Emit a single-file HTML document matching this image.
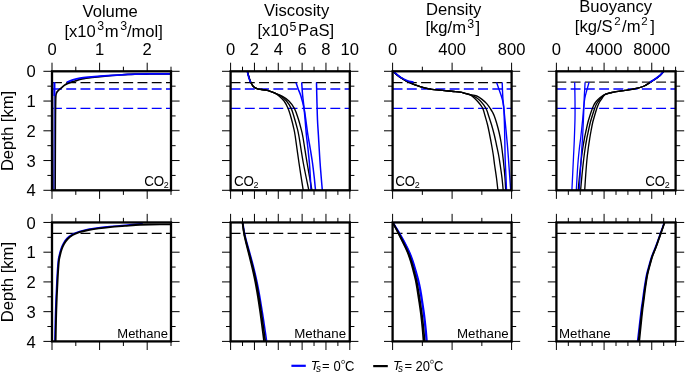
<!DOCTYPE html>
<html><head><meta charset="utf-8"><title>Figure</title>
<style>
html,body{margin:0;padding:0;background:#fff;}
body{width:685px;height:374px;overflow:hidden;font-family:"Liberation Sans",sans-serif;}
svg{display:block;will-change:transform;}
</style></head>
<body>
<svg width="685" height="374" viewBox="0 0 685 374">
<rect width="685" height="374" fill="#fff"/>
<line x1="52" y1="82.5" x2="171" y2="82.5" stroke="#000" stroke-width="1.25" stroke-dasharray="9.9 4.35"/>
<line x1="52" y1="88.95" x2="171" y2="88.95" stroke="#0000ff" stroke-width="1.4" stroke-dasharray="9.9 4.35"/>
<line x1="52" y1="108.4" x2="171" y2="108.4" stroke="#0000ff" stroke-width="1.4" stroke-dasharray="9.9 4.35"/>
<line x1="52" y1="233.4" x2="171" y2="233.4" stroke="#000" stroke-width="1.3" stroke-dasharray="9.9 4.35"/>
<line x1="230.6" y1="82.5" x2="349.8" y2="82.5" stroke="#000" stroke-width="1.25" stroke-dasharray="9.9 4.35"/>
<line x1="230.6" y1="88.95" x2="349.8" y2="88.95" stroke="#0000ff" stroke-width="1.4" stroke-dasharray="9.9 4.35"/>
<line x1="230.6" y1="108.4" x2="349.8" y2="108.4" stroke="#0000ff" stroke-width="1.4" stroke-dasharray="9.9 4.35"/>
<line x1="230.6" y1="233.4" x2="349.8" y2="233.4" stroke="#000" stroke-width="1.3" stroke-dasharray="9.9 4.35"/>
<line x1="392.6" y1="82.5" x2="511.6" y2="82.5" stroke="#000" stroke-width="1.25" stroke-dasharray="9.9 4.35"/>
<line x1="392.6" y1="88.95" x2="511.6" y2="88.95" stroke="#0000ff" stroke-width="1.4" stroke-dasharray="9.9 4.35"/>
<line x1="392.6" y1="108.4" x2="511.6" y2="108.4" stroke="#0000ff" stroke-width="1.4" stroke-dasharray="9.9 4.35"/>
<line x1="392.6" y1="233.4" x2="511.6" y2="233.4" stroke="#000" stroke-width="1.3" stroke-dasharray="9.9 4.35"/>
<line x1="556.4" y1="82.05" x2="675.6" y2="82.05" stroke="#1a1a1a" stroke-width="1.3" stroke-dasharray="9.9 4.35"/>
<line x1="556.4" y1="88.95" x2="675.6" y2="88.95" stroke="#0000ff" stroke-width="1.4" stroke-dasharray="9.9 4.35"/>
<line x1="556.4" y1="108.4" x2="675.6" y2="108.4" stroke="#0000ff" stroke-width="1.4" stroke-dasharray="9.9 4.35"/>
<line x1="556.4" y1="233.4" x2="675.6" y2="233.4" stroke="#000" stroke-width="1.3" stroke-dasharray="9.9 4.35"/>
<path d="M171 73.9 C167.5 73.92 156 73.95 150 74 C144 74.05 140 74.03 135 74.2 C130 74.37 125 74.68 120 75 C115 75.32 109.67 75.7 105 76.1 C100.33 76.5 95.83 76.93 92 77.4 C88.17 77.87 84.83 78.3 82 78.9 C79.17 79.5 77.05 80.38 75 81 C72.95 81.62 71.33 81.97 69.7 82.6 C68.07 83.23 66.58 83.93 65.2 84.8 C63.82 85.67 62.55 86.85 61.4 87.8 C60.25 88.75 59.13 89.6 58.3 90.5 C57.47 91.4 56.83 91.95 56.4 93.2 C55.97 94.45 55.87 93.53 55.7 98 C55.53 102.47 55.5 104.65 55.4 120 C55.3 135.35 55.15 178.42 55.1 190.1" fill="none" stroke="#000" stroke-width="1.7" stroke-linejoin="round"/>
<path d="M171 73.8 C167.5 73.82 156 73.85 150 73.9 C144 73.95 139.17 73.98 135 74.1 C130.83 74.22 128.83 74.38 125 74.6 C121.17 74.82 116.17 75.13 112 75.4 C107.83 75.67 104 75.92 100 76.2 C96 76.48 91.33 76.78 88 77.1 C84.67 77.42 82.53 77.63 80 78.1 C77.47 78.57 75.02 79.22 72.8 79.9 C70.58 80.58 67.72 81.82 66.7 82.2" fill="none" stroke="#0000ff" stroke-width="1.7" stroke-linejoin="round"/>
<path d="M54.4 82.3 L54.25 120 L53.8 190.3" fill="none" stroke="#3535b5" stroke-width="1.6" stroke-linejoin="round"/>
<path d="M54.45 82.3 L54.4 96" fill="none" stroke="#0000ff" stroke-width="1.9" stroke-linejoin="round"/>
<path d="M247.3 71.1 C247.52 71.92 248.1 74.3 248.6 76 C249.1 77.7 249.78 79.97 250.3 81.3 C250.82 82.63 251.08 83.03 251.7 84 C252.32 84.97 253.03 86.3 254 87.1 C254.97 87.9 256.25 88.4 257.5 88.8 C258.75 89.2 260.05 89.27 261.5 89.5 C262.95 89.73 264.62 89.85 266.2 90.2 C267.78 90.55 269.63 91.15 271 91.6 C272.37 92.05 273.02 92.13 274.4 92.9 C275.78 93.67 277.68 94.85 279.3 96.2 C280.92 97.55 282.63 98.93 284.1 101 C285.57 103.07 286.9 105.68 288.1 108.6 C289.3 111.52 290.37 115.23 291.3 118.5 C292.23 121.77 293.05 125.28 293.7 128.2 C294.35 131.12 294.32 130.2 295.2 136 C296.08 141.8 297.67 153.98 299 163 C300.33 172.02 302.5 185.58 303.2 190.1" fill="none" stroke="#000" stroke-width="1.35" stroke-linejoin="round"/>
<path d="M247.3 71.1 C247.52 71.92 248.1 74.3 248.6 76 C249.1 77.7 249.78 79.97 250.3 81.3 C250.82 82.63 251.08 83.03 251.7 84 C252.32 84.97 253.03 86.3 254 87.1 C254.97 87.9 256.25 88.4 257.5 88.8 C258.75 89.2 260.05 89.27 261.5 89.5 C262.95 89.73 264.62 89.85 266.2 90.2 C267.78 90.55 269.63 91.15 271 91.6 C272.37 92.05 272.75 92.12 274.4 92.9 C276.05 93.68 278.88 94.95 280.9 96.3 C282.92 97.65 284.77 98.95 286.5 101 C288.23 103.05 289.97 105.68 291.3 108.6 C292.63 111.52 293.52 115.23 294.5 118.5 C295.48 121.77 296.47 125.28 297.2 128.2 C297.93 131.12 297.88 130.2 298.9 136 C299.92 141.8 301.65 153.98 303.3 163 C304.95 172.02 307.88 185.58 308.8 190.1" fill="none" stroke="#000" stroke-width="1.35" stroke-linejoin="round"/>
<path d="M247.3 71.1 C247.52 71.92 248.1 74.3 248.6 76 C249.1 77.7 249.78 79.97 250.3 81.3 C250.82 82.63 251.08 83.03 251.7 84 C252.32 84.97 253.03 86.3 254 87.1 C254.97 87.9 256.25 88.4 257.5 88.8 C258.75 89.2 260.05 89.27 261.5 89.5 C262.95 89.73 264.62 89.85 266.2 90.2 C267.78 90.55 269.63 91.15 271 91.6 C272.37 92.05 272.48 92.1 274.4 92.9 C276.32 93.7 280.08 95.05 282.5 96.4 C284.92 97.75 286.9 98.97 288.9 101 C290.9 103.03 292.95 105.68 294.5 108.6 C296.05 111.52 297.13 115.23 298.2 118.5 C299.27 121.77 300.12 125.12 300.9 128.2 C301.68 131.28 301.87 131.2 302.9 137 C303.93 142.8 305.6 154.15 307.1 163 C308.6 171.85 311.1 185.58 311.9 190.1" fill="none" stroke="#000" stroke-width="1.35" stroke-linejoin="round"/>
<path d="M247.3 71.1 C247.43 71.75 247.8 73.77 248.1 75 C248.4 76.23 248.68 77.27 249.1 78.5 C249.52 79.73 250.35 81.75 250.6 82.4" fill="none" stroke="#0000ff" stroke-width="1.6" stroke-linejoin="round"/>
<path d="M295.9 82.4 C296.28 83.5 297.37 86.73 298.2 89 C299.03 91.27 299.92 92.73 300.9 96 C301.88 99.27 303.23 104.27 304.1 108.6 C304.97 112.93 305.47 117.6 306.1 122 C306.73 126.4 307.2 130.5 307.9 135 C308.6 139.5 309.53 144.33 310.3 149 C311.07 153.67 311.85 158.33 312.5 163 C313.15 167.67 313.7 172.48 314.2 177 C314.7 181.52 315.28 187.92 315.5 190.1" fill="none" stroke="#0000ff" stroke-width="1.5" stroke-linejoin="round"/>
<path d="M301.7 82.4 C301.78 83.67 302.03 87.73 302.2 90 C302.37 92.27 302.38 92.9 302.7 96 C303.02 99.1 303.67 104.27 304.1 108.6 C304.53 112.93 304.92 117.6 305.3 122 C305.68 126.4 305.95 130.5 306.4 135 C306.85 139.5 307.5 144.33 308 149 C308.5 153.67 309.02 158.33 309.4 163 C309.78 167.67 310.03 172.48 310.3 177 C310.57 181.52 310.88 187.92 311 190.1" fill="none" stroke="#0000ff" stroke-width="1.5" stroke-linejoin="round"/>
<path d="M316.5 82.4 C316.57 85.33 316.73 93.73 316.9 100 C317.07 106.27 317.25 114.17 317.5 120 C317.75 125.83 317.97 127.83 318.4 135 C318.83 142.17 319.45 153.82 320.1 163 C320.75 172.18 321.93 185.58 322.3 190.1" fill="none" stroke="#0000ff" stroke-width="1.5" stroke-linejoin="round"/>
<path d="M392.7 71.3 C393.37 71.85 395.28 73.5 396.7 74.6 C398.12 75.7 399.65 76.87 401.2 77.9 C402.75 78.93 404.53 80 406 80.8 C407.47 81.6 408.12 81.88 410 82.7 C411.88 83.52 414.87 84.83 417.3 85.7 C419.73 86.57 422.17 87.3 424.6 87.9 C427.03 88.5 429.47 88.93 431.9 89.3 C434.33 89.67 436.77 89.85 439.2 90.1 C441.63 90.35 444.07 90.57 446.5 90.8 C448.93 91.03 451.55 91.27 453.8 91.5 C456.05 91.73 458.13 91.9 460 92.2 C461.87 92.5 463.43 92.92 465 93.3 C466.57 93.68 468 93.85 469.4 94.5 C470.8 95.15 472.05 96.08 473.4 97.2 C474.75 98.32 476.28 99.87 477.5 101.2 C478.72 102.53 479.77 103.85 480.7 105.2 C481.63 106.55 482.37 107.5 483.1 109.3 C483.83 111.1 484.35 113.38 485.1 116 C485.85 118.62 486.83 121.83 487.6 125 C488.37 128.17 489.03 131.67 489.7 135 C490.37 138.33 491 141.67 491.6 145 C492.2 148.33 492.8 151.67 493.3 155 C493.8 158.33 494.07 161.17 494.6 165 C495.13 168.83 495.95 173.78 496.5 178 C497.05 182.22 497.67 188.25 497.9 190.3" fill="none" stroke="#000" stroke-width="1.35" stroke-linejoin="round"/>
<path d="M392.7 71.3 C393.37 71.85 395.28 73.5 396.7 74.6 C398.12 75.7 399.65 76.87 401.2 77.9 C402.75 78.93 404.53 80 406 80.8 C407.47 81.6 408.12 81.88 410 82.7 C411.88 83.52 414.87 84.83 417.3 85.7 C419.73 86.57 422.17 87.3 424.6 87.9 C427.03 88.5 429.47 88.93 431.9 89.3 C434.33 89.67 436.77 89.85 439.2 90.1 C441.63 90.35 444.07 90.57 446.5 90.8 C448.93 91.03 451.55 91.27 453.8 91.5 C456.05 91.73 458.13 91.9 460 92.2 C461.87 92.5 463.43 92.92 465 93.3 C466.57 93.68 467.73 93.92 469.4 94.5 C471.07 95.08 473.25 95.82 475 96.8 C476.75 97.78 478.42 99 479.9 100.4 C481.38 101.8 482.77 103.6 483.9 105.2 C485.03 106.8 485.9 108.2 486.7 110 C487.5 111.8 487.88 113.5 488.7 116 C489.52 118.5 490.67 121.83 491.6 125 C492.53 128.17 493.48 131.67 494.3 135 C495.12 138.33 495.78 141.67 496.5 145 C497.22 148.33 497.98 151.67 498.6 155 C499.22 158.33 499.63 161.17 500.2 165 C500.77 168.83 501.5 173.78 502 178 C502.5 182.22 503 188.25 503.2 190.3" fill="none" stroke="#000" stroke-width="1.35" stroke-linejoin="round"/>
<path d="M392.7 71.3 C393.37 71.85 395.28 73.5 396.7 74.6 C398.12 75.7 399.65 76.87 401.2 77.9 C402.75 78.93 404.53 80 406 80.8 C407.47 81.6 408.12 81.88 410 82.7 C411.88 83.52 414.87 84.83 417.3 85.7 C419.73 86.57 422.17 87.3 424.6 87.9 C427.03 88.5 429.47 88.93 431.9 89.3 C434.33 89.67 436.77 89.85 439.2 90.1 C441.63 90.35 444.07 90.57 446.5 90.8 C448.93 91.03 451.55 91.27 453.8 91.5 C456.05 91.73 458.13 91.9 460 92.2 C461.87 92.5 463.43 92.92 465 93.3 C466.57 93.68 467.45 94.05 469.4 94.5 C471.35 94.95 474.55 95.15 476.7 96 C478.85 96.85 480.63 98.33 482.3 99.6 C483.97 100.87 485.37 102.12 486.7 103.6 C488.03 105.08 489.3 107.02 490.3 108.5 C491.3 109.98 492.03 111.25 492.7 112.5 C493.37 113.75 493.65 114.25 494.3 116 C494.95 117.75 495.82 120.33 496.6 123 C497.38 125.67 498.27 128.83 499 132 C499.73 135.17 500.38 138.17 501 142 C501.62 145.83 502.2 150.83 502.7 155 C503.2 159.17 503.62 163.17 504 167 C504.38 170.83 504.72 174.12 505 178 C505.28 181.88 505.58 188.25 505.7 190.3" fill="none" stroke="#000" stroke-width="1.35" stroke-linejoin="round"/>
<path d="M392.7 71.1 C393.37 71.62 395.28 73.12 396.7 74.2 C398.12 75.28 399.5 76.57 401.2 77.6 C402.9 78.63 404.83 79.63 406.9 80.4 C408.97 81.17 412.48 81.9 413.6 82.2" fill="none" stroke="#0000ff" stroke-width="1.6" stroke-linejoin="round"/>
<path d="M496.6 82.4 C497.1 83.83 498.62 88.07 499.6 91 C500.58 93.93 501.8 97.17 502.5 100 C503.2 102.83 503.38 104.67 503.8 108 C504.22 111.33 504.63 116.33 505 120 C505.37 123.67 505.6 125.83 506 130 C506.4 134.17 507 140.33 507.4 145 C507.8 149.67 508.03 153 508.4 158 C508.77 163 509.22 169.62 509.6 175 C509.98 180.38 510.52 187.75 510.7 190.3" fill="none" stroke="#0000ff" stroke-width="1.4" stroke-linejoin="round"/>
<path d="M502.2 82.4 C502.25 83.83 502.37 88.07 502.5 91 C502.63 93.93 502.78 97.17 503 100 C503.22 102.83 503.58 104.67 503.8 108 C504.02 111.33 504.17 116.33 504.3 120 C504.43 123.67 504.5 125.83 504.6 130 C504.7 134.17 504.8 140 504.9 145 C505 150 505.03 155 505.2 160 C505.37 165 505.68 169.95 505.9 175 C506.12 180.05 506.4 187.75 506.5 190.3" fill="none" stroke="#0000ff" stroke-width="1.4" stroke-linejoin="round"/>
<path d="M663.9 71.3 C663.25 72 661.48 74.17 660 75.5 C658.52 76.83 656.7 78.12 655 79.3 C653.3 80.48 651.6 81.48 649.8 82.6 C648 83.72 646.25 85.07 644.2 86 C642.15 86.93 639.55 87.63 637.5 88.2 C635.45 88.77 633.98 89.03 631.9 89.4 C629.82 89.77 627.63 90.03 625 90.4 C622.37 90.77 618.52 91.2 616.1 91.6 C613.68 92 612.23 92.37 610.5 92.8 C608.77 93.23 607.2 93.58 605.7 94.2 C604.2 94.82 602.78 95.62 601.5 96.5 C600.22 97.38 599.02 98.5 598 99.5 C596.98 100.5 596.17 101.42 595.4 102.5 C594.63 103.58 594 104.75 593.4 106 C592.8 107.25 592.4 108.33 591.8 110 C591.2 111.67 590.43 114 589.8 116 C589.17 118 588.6 119.67 588 122 C587.4 124.33 586.78 127.33 586.2 130 C585.62 132.67 585.07 135 584.5 138 C583.93 141 583.35 144.33 582.8 148 C582.25 151.67 581.73 155.5 581.2 160 C580.67 164.5 580.1 169.95 579.6 175 C579.1 180.05 578.43 187.75 578.2 190.3" fill="none" stroke="#000" stroke-width="1.35" stroke-linejoin="round"/>
<path d="M663.9 71.3 C663.25 72 661.48 74.17 660 75.5 C658.52 76.83 656.7 78.12 655 79.3 C653.3 80.48 651.6 81.48 649.8 82.6 C648 83.72 646.25 85.07 644.2 86 C642.15 86.93 639.55 87.63 637.5 88.2 C635.45 88.77 633.98 89.03 631.9 89.4 C629.82 89.77 627.63 90.03 625 90.4 C622.37 90.77 618.52 91.2 616.1 91.6 C613.68 92 612.23 92.37 610.5 92.8 C608.77 93.23 607.02 93.62 605.7 94.2 C604.38 94.78 603.58 95.43 602.6 96.3 C601.62 97.17 600.67 98.37 599.8 99.4 C598.93 100.43 598.1 101.4 597.4 102.5 C596.7 103.6 596.15 104.75 595.6 106 C595.05 107.25 594.67 108.33 594.1 110 C593.53 111.67 592.82 114 592.2 116 C591.58 118 591 119.67 590.4 122 C589.8 124.33 589.18 127.33 588.6 130 C588.02 132.67 587.47 135 586.9 138 C586.33 141 585.75 144.33 585.2 148 C584.65 151.67 584.13 155.5 583.6 160 C583.07 164.5 582.5 169.95 582 175 C581.5 180.05 580.83 187.75 580.6 190.3" fill="none" stroke="#000" stroke-width="1.35" stroke-linejoin="round"/>
<path d="M663.9 71.3 C663.25 72 661.48 74.17 660 75.5 C658.52 76.83 656.7 78.12 655 79.3 C653.3 80.48 651.6 81.48 649.8 82.6 C648 83.72 646.25 85.07 644.2 86 C642.15 86.93 639.55 87.63 637.5 88.2 C635.45 88.77 633.98 89.03 631.9 89.4 C629.82 89.77 627.63 90.03 625 90.4 C622.37 90.77 618.52 91.2 616.1 91.6 C613.68 92 612.23 92.37 610.5 92.8 C608.77 93.23 606.85 93.65 605.7 94.2 C604.55 94.75 604.32 95.25 603.6 96.1 C602.88 96.95 602.12 98.23 601.4 99.3 C600.68 100.37 599.92 101.38 599.3 102.5 C598.68 103.62 598.2 104.75 597.7 106 C597.2 107.25 596.83 108.33 596.3 110 C595.77 111.67 595.08 114 594.5 116 C593.92 118 593.35 119.67 592.8 122 C592.25 124.33 591.7 127.33 591.2 130 C590.7 132.67 590.28 135 589.8 138 C589.32 141 588.78 144.33 588.3 148 C587.82 151.67 587.33 155.5 586.9 160 C586.47 164.5 586.07 169.95 585.7 175 C585.33 180.05 584.87 187.75 584.7 190.3" fill="none" stroke="#000" stroke-width="1.35" stroke-linejoin="round"/>
<path d="M663.9 71.1 C663.25 71.8 661.42 74.03 660 75.3 C658.58 76.57 657.1 77.55 655.4 78.7 C653.7 79.85 650.73 81.62 649.8 82.2" fill="none" stroke="#0000ff" stroke-width="1.7" stroke-linejoin="round"/>
<path d="M574.7 82.2 C574.75 85.17 574.95 94.03 575 100 C575.05 105.97 575.12 111.33 575 118 C574.88 124.67 574.55 133.5 574.3 140 C574.05 146.5 573.9 148.62 573.5 157 C573.1 165.38 572.17 184.75 571.9 190.3" fill="none" stroke="#0000ff" stroke-width="1.3" stroke-linejoin="round"/>
<path d="M589.1 82.2 C588.68 83.67 587.32 88.28 586.6 91 C585.88 93.72 585.3 95.67 584.8 98.5 C584.3 101.33 583.97 104.42 583.6 108 C583.23 111.58 583.07 115.17 582.6 120 C582.13 124.83 581.37 132 580.8 137 C580.23 142 579.7 145.33 579.2 150 C578.7 154.67 578.28 158.28 577.8 165 C577.32 171.72 576.55 186.08 576.3 190.3" fill="none" stroke="#0000ff" stroke-width="1.3" stroke-linejoin="round"/>
<path d="M585.1 82.2 C585.02 83.67 584.75 88.28 584.6 91 C584.45 93.72 584.32 95.67 584.2 98.5 C584.08 101.33 584.03 104.42 583.9 108 C583.77 111.58 583.62 115.17 583.4 120 C583.18 124.83 582.88 132 582.6 137 C582.32 142 582 145.33 581.7 150 C581.4 154.67 581.22 158.28 580.8 165 C580.38 171.72 579.47 186.08 579.2 190.3" fill="none" stroke="#0000ff" stroke-width="1.3" stroke-linejoin="round"/>
<path d="M142.8 223.6 C139.83 223.88 130.47 224.82 125 225.3 C119.53 225.78 114.4 226.08 110 226.5 C105.6 226.92 102.38 227.3 98.6 227.8 C94.82 228.3 90.48 228.88 87.3 229.5 C84.12 230.12 81.93 230.72 79.5 231.5 C77.07 232.28 74.78 233.05 72.7 234.2 C70.62 235.35 68.57 236.83 67 238.4 C65.43 239.97 64.32 241.8 63.3 243.6 C62.28 245.4 61.6 247.13 60.9 249.2 C60.2 251.27 59.57 253.87 59.1 256 C58.63 258.13 58.47 258 58.1 262 C57.73 266 57.32 272 56.9 280 C56.48 288 55.95 299.77 55.6 310 C55.25 320.23 54.93 336.17 54.8 341.4" fill="none" stroke="#0000ff" stroke-width="1.5" stroke-linejoin="round"/>
<path d="M171 224.35 C167.5 224.38 155.17 224.43 150 224.5 C144.83 224.57 144.17 224.57 140 224.8 C135.83 225.03 130 225.52 125 225.9 C120 226.28 114.4 226.68 110 227.1 C105.6 227.52 102.38 227.88 98.6 228.4 C94.82 228.92 90.48 229.57 87.3 230.2 C84.12 230.83 81.93 231.4 79.5 232.2 C77.07 233 74.68 233.87 72.7 235 C70.72 236.13 69.05 237.5 67.6 239 C66.15 240.5 65 242.25 64 244 C63 245.75 62.3 247.47 61.6 249.5 C60.9 251.53 60.27 254.12 59.8 256.2 C59.33 258.28 59.17 258.03 58.8 262 C58.43 265.97 58.02 272 57.6 280 C57.18 288 56.63 299.77 56.3 310 C55.97 320.23 55.72 336.17 55.6 341.4" fill="none" stroke="#000" stroke-width="1.9" stroke-linejoin="round"/>
<path d="M242.81 222.45 C243.1 224.21 243.91 229.91 244.52 233 C245.12 236.09 245.66 238 246.45 241 C247.24 244 248.29 247.58 249.24 251 C250.18 254.42 251.2 258 252.12 261.5 C253.05 265 253.96 268.58 254.78 272 C255.6 275.42 256.33 278.67 257.03 282 C257.73 285.33 258.36 288.67 258.98 292 C259.6 295.33 260.14 298.5 260.73 302 C261.32 305.5 261.92 309.17 262.52 313 C263.12 316.83 263.78 321.33 264.33 325 C264.87 328.67 265.4 332.27 265.8 335 C266.19 337.73 266.55 340.33 266.7 341.4" fill="none" stroke="#0000ff" stroke-width="1.5" stroke-linejoin="round"/>
<path d="M242.5 222.45 C242.73 224.21 243.38 229.91 243.9 233 C244.42 236.09 244.9 238 245.6 241 C246.3 244 247.25 247.58 248.1 251 C248.95 254.42 249.85 258 250.7 261.5 C251.55 265 252.43 268.58 253.2 272 C253.97 275.42 254.65 278.67 255.3 282 C255.95 285.33 256.53 288.67 257.1 292 C257.67 295.33 258.17 298.5 258.7 302 C259.23 305.5 259.77 309.17 260.3 313 C260.83 316.83 261.42 321.33 261.9 325 C262.38 328.67 262.85 332.27 263.2 335 C263.55 337.73 263.87 340.33 264 341.4" fill="none" stroke="#000" stroke-width="1.7" stroke-linejoin="round"/>
<path d="M242.51 222.45 C242.77 224.21 243.53 229.91 244.1 233 C244.68 236.09 245.19 238 245.95 241 C246.71 244 247.72 247.58 248.63 251 C249.54 254.42 250.52 258 251.41 261.5 C252.3 265 253.2 268.58 253.99 272 C254.78 275.42 255.49 278.67 256.16 282 C256.84 285.33 257.45 288.67 258.04 292 C258.63 295.33 259.15 298.5 259.71 302 C260.27 305.5 260.83 309.17 261.39 313 C261.95 316.83 262.57 321.33 263.08 325 C263.59 328.67 264.09 332.27 264.46 335 C264.83 337.73 265.16 340.33 265.3 341.4" fill="none" stroke="#000" stroke-width="1.7" stroke-linejoin="round"/>
<path d="M392.93 222.45 C393.37 223.17 394.52 225.04 395.57 226.8 C396.62 228.56 397.71 230.3 399.23 233 C400.75 235.7 403.06 239.83 404.7 243 C406.34 246.17 407.76 249 409.05 252 C410.33 255 411.39 258 412.39 261 C413.39 264 414.15 266.83 415.04 270 C415.92 273.17 416.9 276.67 417.7 280 C418.5 283.33 419.17 286.33 419.85 290 C420.53 293.67 421.14 297.83 421.77 302 C422.4 306.17 423.09 310.67 423.65 315 C424.21 319.33 424.68 323.6 425.12 328 C425.57 332.4 426.1 339.17 426.3 341.4" fill="none" stroke="#0000ff" stroke-width="1.5" stroke-linejoin="round"/>
<path d="M392.93 222.45 C393.39 223.17 394.58 225.04 395.67 226.8 C396.75 228.56 397.87 230.3 399.44 233 C401.01 235.7 403.42 239.83 405.1 243 C406.78 246.17 408.23 249 409.54 252 C410.86 255 411.96 258 412.99 261 C414.02 264 414.81 266.83 415.73 270 C416.65 273.17 417.68 276.67 418.5 280 C419.32 283.33 419.97 286.33 420.65 290 C421.33 293.67 421.94 297.83 422.57 302 C423.2 306.17 423.89 310.67 424.45 315 C425.01 319.33 425.48 323.6 425.92 328 C426.37 332.4 426.9 339.17 427.1 341.4" fill="none" stroke="#0000ff" stroke-width="1.5" stroke-linejoin="round"/>
<path d="M392.6 222.45 C393 223.17 394.05 225.04 395 226.8 C395.95 228.56 396.93 230.3 398.3 233 C399.67 235.7 401.68 239.83 403.2 243 C404.72 246.17 406.17 249 407.4 252 C408.63 255 409.65 258 410.6 261 C411.55 264 412.27 266.83 413.1 270 C413.93 273.17 414.89 276.67 415.6 280 C416.31 283.33 416.75 286.33 417.35 290 C417.95 293.67 418.59 297.83 419.2 302 C419.81 306.17 420.47 310.67 421 315 C421.53 319.33 421.98 323.6 422.4 328 C422.82 332.4 423.32 339.17 423.5 341.4" fill="none" stroke="#000" stroke-width="1.7" stroke-linejoin="round"/>
<path d="M392.61 222.45 C393.02 223.17 394.11 225.04 395.09 226.8 C396.07 228.56 397.09 230.3 398.5 233 C399.92 235.7 402.01 239.83 403.59 243 C405.16 246.17 406.67 249 407.95 252 C409.24 255 410.32 258 411.31 261 C412.29 264 413.01 266.83 413.86 270 C414.71 273.17 415.69 276.67 416.42 280 C417.15 283.33 417.61 286.33 418.24 290 C418.86 293.67 419.53 297.83 420.16 302 C420.79 306.17 421.48 310.67 422.04 315 C422.6 319.33 423.08 323.6 423.52 328 C423.96 332.4 424.5 339.17 424.7 341.4" fill="none" stroke="#000" stroke-width="1.7" stroke-linejoin="round"/>
<path d="M664.2 222.45 C663.88 223.38 662.9 226.22 662.27 228 C661.65 229.78 661.14 231.18 660.45 233.1 C659.76 235.02 658.92 237.32 658.13 239.5 C657.33 241.68 656.42 244.28 655.7 246.2 C654.97 248.12 654.4 249.43 653.78 251 C653.15 252.57 652.52 254.05 651.96 255.6 C651.4 257.15 650.91 258.75 650.44 260.3 C649.97 261.85 649.76 262.57 649.12 264.9 C648.48 267.23 647.38 270.55 646.58 274.3 C645.78 278.05 644.99 283.12 644.33 287.4 C643.66 291.68 643.1 296.23 642.57 300 C642.04 303.77 641.66 305.83 641.13 310 C640.6 314.17 639.97 319.77 639.37 325 C638.76 330.23 637.81 338.67 637.5 341.4" fill="none" stroke="#0000ff" stroke-width="1.4" stroke-linejoin="round"/>
<path d="M664.6 222.45 C664.28 223.38 663.32 226.22 662.7 228 C662.08 229.78 661.58 231.18 660.9 233.1 C660.22 235.02 659.38 237.32 658.6 239.5 C657.82 241.68 656.92 244.28 656.2 246.2 C655.48 248.12 654.92 249.43 654.3 251 C653.68 252.57 653.05 254.05 652.5 255.6 C651.95 257.15 651.47 258.75 651 260.3 C650.53 261.85 650.33 262.57 649.7 264.9 C649.07 267.23 647.98 270.55 647.2 274.3 C646.42 278.05 645.65 283.12 645 287.4 C644.35 291.68 643.82 296.23 643.3 300 C642.78 303.77 642.42 305.83 641.9 310 C641.38 314.17 640.78 319.77 640.2 325 C639.62 330.23 638.7 338.67 638.4 341.4" fill="none" stroke="#000" stroke-width="1.6" stroke-linejoin="round"/>
<path d="M664.6 222.45 C664.29 223.38 663.35 226.22 662.74 228 C662.14 229.78 661.65 231.18 660.98 233.1 C660.31 235.02 659.49 237.32 658.72 239.5 C657.95 241.68 657.07 244.28 656.37 246.2 C655.66 248.12 655.11 249.43 654.5 251 C653.89 252.57 653.27 254.05 652.73 255.6 C652.19 257.15 651.72 258.75 651.26 260.3 C650.81 261.85 650.61 262.57 650 264.9 C649.38 267.23 648.32 270.55 647.56 274.3 C646.8 278.05 646.08 283.12 645.46 287.4 C644.84 291.68 644.35 296.23 643.86 300 C643.38 303.77 643.03 305.83 642.55 310 C642.06 314.17 641.51 319.77 640.97 325 C640.43 330.23 639.58 338.67 639.3 341.4" fill="none" stroke="#000" stroke-width="1.6" stroke-linejoin="round"/>
<line x1="52" y1="71.3" x2="52" y2="62.7" stroke="#000" stroke-width="1"/>
<line x1="52" y1="190.3" x2="52" y2="198.9" stroke="#000" stroke-width="1"/>
<line x1="75.8" y1="71.3" x2="75.8" y2="66.7" stroke="#000" stroke-width="1"/>
<line x1="75.8" y1="190.3" x2="75.8" y2="194.9" stroke="#000" stroke-width="1"/>
<line x1="99.6" y1="71.3" x2="99.6" y2="62.7" stroke="#000" stroke-width="1"/>
<line x1="99.6" y1="190.3" x2="99.6" y2="198.9" stroke="#000" stroke-width="1"/>
<line x1="123.4" y1="71.3" x2="123.4" y2="66.7" stroke="#000" stroke-width="1"/>
<line x1="123.4" y1="190.3" x2="123.4" y2="194.9" stroke="#000" stroke-width="1"/>
<line x1="147.2" y1="71.3" x2="147.2" y2="62.7" stroke="#000" stroke-width="1"/>
<line x1="147.2" y1="190.3" x2="147.2" y2="198.9" stroke="#000" stroke-width="1"/>
<line x1="171" y1="71.3" x2="171" y2="66.7" stroke="#000" stroke-width="1"/>
<line x1="171" y1="190.3" x2="171" y2="194.9" stroke="#000" stroke-width="1"/>
<line x1="52" y1="71.3" x2="43.4" y2="71.3" stroke="#000" stroke-width="1"/>
<line x1="171" y1="71.3" x2="179.6" y2="71.3" stroke="#000" stroke-width="1"/>
<line x1="52" y1="86.17" x2="47.4" y2="86.17" stroke="#000" stroke-width="1"/>
<line x1="171" y1="86.17" x2="175.6" y2="86.17" stroke="#000" stroke-width="1"/>
<line x1="52" y1="101.05" x2="43.4" y2="101.05" stroke="#000" stroke-width="1"/>
<line x1="171" y1="101.05" x2="179.6" y2="101.05" stroke="#000" stroke-width="1"/>
<line x1="52" y1="115.93" x2="47.4" y2="115.93" stroke="#000" stroke-width="1"/>
<line x1="171" y1="115.93" x2="175.6" y2="115.93" stroke="#000" stroke-width="1"/>
<line x1="52" y1="130.8" x2="43.4" y2="130.8" stroke="#000" stroke-width="1"/>
<line x1="171" y1="130.8" x2="179.6" y2="130.8" stroke="#000" stroke-width="1"/>
<line x1="52" y1="145.68" x2="47.4" y2="145.68" stroke="#000" stroke-width="1"/>
<line x1="171" y1="145.68" x2="175.6" y2="145.68" stroke="#000" stroke-width="1"/>
<line x1="52" y1="160.55" x2="43.4" y2="160.55" stroke="#000" stroke-width="1"/>
<line x1="171" y1="160.55" x2="179.6" y2="160.55" stroke="#000" stroke-width="1"/>
<line x1="52" y1="175.43" x2="47.4" y2="175.43" stroke="#000" stroke-width="1"/>
<line x1="171" y1="175.43" x2="175.6" y2="175.43" stroke="#000" stroke-width="1"/>
<line x1="52" y1="190.3" x2="43.4" y2="190.3" stroke="#000" stroke-width="1"/>
<line x1="171" y1="190.3" x2="179.6" y2="190.3" stroke="#000" stroke-width="1"/>
<rect x="52" y="71.3" width="119" height="119" fill="none" stroke="#000" stroke-width="2.3"/>
<line x1="230.6" y1="71.3" x2="230.6" y2="62.7" stroke="#000" stroke-width="1"/>
<line x1="230.6" y1="190.3" x2="230.6" y2="198.9" stroke="#000" stroke-width="1"/>
<line x1="242.52" y1="71.3" x2="242.52" y2="66.7" stroke="#000" stroke-width="1"/>
<line x1="242.52" y1="190.3" x2="242.52" y2="194.9" stroke="#000" stroke-width="1"/>
<line x1="254.44" y1="71.3" x2="254.44" y2="62.7" stroke="#000" stroke-width="1"/>
<line x1="254.44" y1="190.3" x2="254.44" y2="198.9" stroke="#000" stroke-width="1"/>
<line x1="266.36" y1="71.3" x2="266.36" y2="66.7" stroke="#000" stroke-width="1"/>
<line x1="266.36" y1="190.3" x2="266.36" y2="194.9" stroke="#000" stroke-width="1"/>
<line x1="278.28" y1="71.3" x2="278.28" y2="62.7" stroke="#000" stroke-width="1"/>
<line x1="278.28" y1="190.3" x2="278.28" y2="198.9" stroke="#000" stroke-width="1"/>
<line x1="290.2" y1="71.3" x2="290.2" y2="66.7" stroke="#000" stroke-width="1"/>
<line x1="290.2" y1="190.3" x2="290.2" y2="194.9" stroke="#000" stroke-width="1"/>
<line x1="302.12" y1="71.3" x2="302.12" y2="62.7" stroke="#000" stroke-width="1"/>
<line x1="302.12" y1="190.3" x2="302.12" y2="198.9" stroke="#000" stroke-width="1"/>
<line x1="314.04" y1="71.3" x2="314.04" y2="66.7" stroke="#000" stroke-width="1"/>
<line x1="314.04" y1="190.3" x2="314.04" y2="194.9" stroke="#000" stroke-width="1"/>
<line x1="325.96" y1="71.3" x2="325.96" y2="62.7" stroke="#000" stroke-width="1"/>
<line x1="325.96" y1="190.3" x2="325.96" y2="198.9" stroke="#000" stroke-width="1"/>
<line x1="337.88" y1="71.3" x2="337.88" y2="66.7" stroke="#000" stroke-width="1"/>
<line x1="337.88" y1="190.3" x2="337.88" y2="194.9" stroke="#000" stroke-width="1"/>
<line x1="349.8" y1="71.3" x2="349.8" y2="62.7" stroke="#000" stroke-width="1"/>
<line x1="349.8" y1="190.3" x2="349.8" y2="198.9" stroke="#000" stroke-width="1"/>
<line x1="230.6" y1="71.3" x2="222" y2="71.3" stroke="#000" stroke-width="1"/>
<line x1="349.8" y1="71.3" x2="358.4" y2="71.3" stroke="#000" stroke-width="1"/>
<line x1="230.6" y1="86.17" x2="226" y2="86.17" stroke="#000" stroke-width="1"/>
<line x1="349.8" y1="86.17" x2="354.4" y2="86.17" stroke="#000" stroke-width="1"/>
<line x1="230.6" y1="101.05" x2="222" y2="101.05" stroke="#000" stroke-width="1"/>
<line x1="349.8" y1="101.05" x2="358.4" y2="101.05" stroke="#000" stroke-width="1"/>
<line x1="230.6" y1="115.93" x2="226" y2="115.93" stroke="#000" stroke-width="1"/>
<line x1="349.8" y1="115.93" x2="354.4" y2="115.93" stroke="#000" stroke-width="1"/>
<line x1="230.6" y1="130.8" x2="222" y2="130.8" stroke="#000" stroke-width="1"/>
<line x1="349.8" y1="130.8" x2="358.4" y2="130.8" stroke="#000" stroke-width="1"/>
<line x1="230.6" y1="145.68" x2="226" y2="145.68" stroke="#000" stroke-width="1"/>
<line x1="349.8" y1="145.68" x2="354.4" y2="145.68" stroke="#000" stroke-width="1"/>
<line x1="230.6" y1="160.55" x2="222" y2="160.55" stroke="#000" stroke-width="1"/>
<line x1="349.8" y1="160.55" x2="358.4" y2="160.55" stroke="#000" stroke-width="1"/>
<line x1="230.6" y1="175.43" x2="226" y2="175.43" stroke="#000" stroke-width="1"/>
<line x1="349.8" y1="175.43" x2="354.4" y2="175.43" stroke="#000" stroke-width="1"/>
<line x1="230.6" y1="190.3" x2="222" y2="190.3" stroke="#000" stroke-width="1"/>
<line x1="349.8" y1="190.3" x2="358.4" y2="190.3" stroke="#000" stroke-width="1"/>
<rect x="230.6" y="71.3" width="119.2" height="119" fill="none" stroke="#000" stroke-width="2.3"/>
<line x1="392.6" y1="71.3" x2="392.6" y2="62.7" stroke="#000" stroke-width="1"/>
<line x1="392.6" y1="190.3" x2="392.6" y2="198.9" stroke="#000" stroke-width="1"/>
<line x1="422.35" y1="71.3" x2="422.35" y2="66.7" stroke="#000" stroke-width="1"/>
<line x1="422.35" y1="190.3" x2="422.35" y2="194.9" stroke="#000" stroke-width="1"/>
<line x1="452.1" y1="71.3" x2="452.1" y2="62.7" stroke="#000" stroke-width="1"/>
<line x1="452.1" y1="190.3" x2="452.1" y2="198.9" stroke="#000" stroke-width="1"/>
<line x1="481.85" y1="71.3" x2="481.85" y2="66.7" stroke="#000" stroke-width="1"/>
<line x1="481.85" y1="190.3" x2="481.85" y2="194.9" stroke="#000" stroke-width="1"/>
<line x1="511.6" y1="71.3" x2="511.6" y2="62.7" stroke="#000" stroke-width="1"/>
<line x1="511.6" y1="190.3" x2="511.6" y2="198.9" stroke="#000" stroke-width="1"/>
<line x1="392.6" y1="71.3" x2="384" y2="71.3" stroke="#000" stroke-width="1"/>
<line x1="511.6" y1="71.3" x2="520.2" y2="71.3" stroke="#000" stroke-width="1"/>
<line x1="392.6" y1="86.17" x2="388" y2="86.17" stroke="#000" stroke-width="1"/>
<line x1="511.6" y1="86.17" x2="516.2" y2="86.17" stroke="#000" stroke-width="1"/>
<line x1="392.6" y1="101.05" x2="384" y2="101.05" stroke="#000" stroke-width="1"/>
<line x1="511.6" y1="101.05" x2="520.2" y2="101.05" stroke="#000" stroke-width="1"/>
<line x1="392.6" y1="115.93" x2="388" y2="115.93" stroke="#000" stroke-width="1"/>
<line x1="511.6" y1="115.93" x2="516.2" y2="115.93" stroke="#000" stroke-width="1"/>
<line x1="392.6" y1="130.8" x2="384" y2="130.8" stroke="#000" stroke-width="1"/>
<line x1="511.6" y1="130.8" x2="520.2" y2="130.8" stroke="#000" stroke-width="1"/>
<line x1="392.6" y1="145.68" x2="388" y2="145.68" stroke="#000" stroke-width="1"/>
<line x1="511.6" y1="145.68" x2="516.2" y2="145.68" stroke="#000" stroke-width="1"/>
<line x1="392.6" y1="160.55" x2="384" y2="160.55" stroke="#000" stroke-width="1"/>
<line x1="511.6" y1="160.55" x2="520.2" y2="160.55" stroke="#000" stroke-width="1"/>
<line x1="392.6" y1="175.43" x2="388" y2="175.43" stroke="#000" stroke-width="1"/>
<line x1="511.6" y1="175.43" x2="516.2" y2="175.43" stroke="#000" stroke-width="1"/>
<line x1="392.6" y1="190.3" x2="384" y2="190.3" stroke="#000" stroke-width="1"/>
<line x1="511.6" y1="190.3" x2="520.2" y2="190.3" stroke="#000" stroke-width="1"/>
<rect x="392.6" y="71.3" width="119" height="119" fill="none" stroke="#000" stroke-width="2.3"/>
<line x1="556.4" y1="71.3" x2="556.4" y2="62.7" stroke="#000" stroke-width="1"/>
<line x1="556.4" y1="190.3" x2="556.4" y2="198.9" stroke="#000" stroke-width="1"/>
<line x1="568.32" y1="71.3" x2="568.32" y2="66.7" stroke="#000" stroke-width="1"/>
<line x1="568.32" y1="190.3" x2="568.32" y2="194.9" stroke="#000" stroke-width="1"/>
<line x1="580.24" y1="71.3" x2="580.24" y2="66.7" stroke="#000" stroke-width="1"/>
<line x1="580.24" y1="190.3" x2="580.24" y2="194.9" stroke="#000" stroke-width="1"/>
<line x1="592.16" y1="71.3" x2="592.16" y2="66.7" stroke="#000" stroke-width="1"/>
<line x1="592.16" y1="190.3" x2="592.16" y2="194.9" stroke="#000" stroke-width="1"/>
<line x1="604.08" y1="71.3" x2="604.08" y2="62.7" stroke="#000" stroke-width="1"/>
<line x1="604.08" y1="190.3" x2="604.08" y2="198.9" stroke="#000" stroke-width="1"/>
<line x1="616" y1="71.3" x2="616" y2="66.7" stroke="#000" stroke-width="1"/>
<line x1="616" y1="190.3" x2="616" y2="194.9" stroke="#000" stroke-width="1"/>
<line x1="627.92" y1="71.3" x2="627.92" y2="66.7" stroke="#000" stroke-width="1"/>
<line x1="627.92" y1="190.3" x2="627.92" y2="194.9" stroke="#000" stroke-width="1"/>
<line x1="639.84" y1="71.3" x2="639.84" y2="66.7" stroke="#000" stroke-width="1"/>
<line x1="639.84" y1="190.3" x2="639.84" y2="194.9" stroke="#000" stroke-width="1"/>
<line x1="651.76" y1="71.3" x2="651.76" y2="62.7" stroke="#000" stroke-width="1"/>
<line x1="651.76" y1="190.3" x2="651.76" y2="198.9" stroke="#000" stroke-width="1"/>
<line x1="663.68" y1="71.3" x2="663.68" y2="66.7" stroke="#000" stroke-width="1"/>
<line x1="663.68" y1="190.3" x2="663.68" y2="194.9" stroke="#000" stroke-width="1"/>
<line x1="675.6" y1="71.3" x2="675.6" y2="66.7" stroke="#000" stroke-width="1"/>
<line x1="675.6" y1="190.3" x2="675.6" y2="194.9" stroke="#000" stroke-width="1"/>
<line x1="556.4" y1="71.3" x2="547.8" y2="71.3" stroke="#000" stroke-width="1"/>
<line x1="675.6" y1="71.3" x2="684.2" y2="71.3" stroke="#000" stroke-width="1"/>
<line x1="556.4" y1="86.17" x2="551.8" y2="86.17" stroke="#000" stroke-width="1"/>
<line x1="675.6" y1="86.17" x2="680.2" y2="86.17" stroke="#000" stroke-width="1"/>
<line x1="556.4" y1="101.05" x2="547.8" y2="101.05" stroke="#000" stroke-width="1"/>
<line x1="675.6" y1="101.05" x2="684.2" y2="101.05" stroke="#000" stroke-width="1"/>
<line x1="556.4" y1="115.93" x2="551.8" y2="115.93" stroke="#000" stroke-width="1"/>
<line x1="675.6" y1="115.93" x2="680.2" y2="115.93" stroke="#000" stroke-width="1"/>
<line x1="556.4" y1="130.8" x2="547.8" y2="130.8" stroke="#000" stroke-width="1"/>
<line x1="675.6" y1="130.8" x2="684.2" y2="130.8" stroke="#000" stroke-width="1"/>
<line x1="556.4" y1="145.68" x2="551.8" y2="145.68" stroke="#000" stroke-width="1"/>
<line x1="675.6" y1="145.68" x2="680.2" y2="145.68" stroke="#000" stroke-width="1"/>
<line x1="556.4" y1="160.55" x2="547.8" y2="160.55" stroke="#000" stroke-width="1"/>
<line x1="675.6" y1="160.55" x2="684.2" y2="160.55" stroke="#000" stroke-width="1"/>
<line x1="556.4" y1="175.43" x2="551.8" y2="175.43" stroke="#000" stroke-width="1"/>
<line x1="675.6" y1="175.43" x2="680.2" y2="175.43" stroke="#000" stroke-width="1"/>
<line x1="556.4" y1="190.3" x2="547.8" y2="190.3" stroke="#000" stroke-width="1"/>
<line x1="675.6" y1="190.3" x2="684.2" y2="190.3" stroke="#000" stroke-width="1"/>
<rect x="556.4" y="71.3" width="119.2" height="119" fill="none" stroke="#000" stroke-width="2.3"/>
<line x1="52" y1="222.45" x2="52" y2="213.85" stroke="#000" stroke-width="1"/>
<line x1="52" y1="341.4" x2="52" y2="350" stroke="#000" stroke-width="1"/>
<line x1="75.8" y1="222.45" x2="75.8" y2="217.85" stroke="#000" stroke-width="1"/>
<line x1="75.8" y1="341.4" x2="75.8" y2="346" stroke="#000" stroke-width="1"/>
<line x1="99.6" y1="222.45" x2="99.6" y2="213.85" stroke="#000" stroke-width="1"/>
<line x1="99.6" y1="341.4" x2="99.6" y2="350" stroke="#000" stroke-width="1"/>
<line x1="123.4" y1="222.45" x2="123.4" y2="217.85" stroke="#000" stroke-width="1"/>
<line x1="123.4" y1="341.4" x2="123.4" y2="346" stroke="#000" stroke-width="1"/>
<line x1="147.2" y1="222.45" x2="147.2" y2="213.85" stroke="#000" stroke-width="1"/>
<line x1="147.2" y1="341.4" x2="147.2" y2="350" stroke="#000" stroke-width="1"/>
<line x1="171" y1="222.45" x2="171" y2="217.85" stroke="#000" stroke-width="1"/>
<line x1="171" y1="341.4" x2="171" y2="346" stroke="#000" stroke-width="1"/>
<line x1="52" y1="222.45" x2="43.4" y2="222.45" stroke="#000" stroke-width="1"/>
<line x1="171" y1="222.45" x2="179.6" y2="222.45" stroke="#000" stroke-width="1"/>
<line x1="52" y1="237.32" x2="47.4" y2="237.32" stroke="#000" stroke-width="1"/>
<line x1="171" y1="237.32" x2="175.6" y2="237.32" stroke="#000" stroke-width="1"/>
<line x1="52" y1="252.19" x2="43.4" y2="252.19" stroke="#000" stroke-width="1"/>
<line x1="171" y1="252.19" x2="179.6" y2="252.19" stroke="#000" stroke-width="1"/>
<line x1="52" y1="267.06" x2="47.4" y2="267.06" stroke="#000" stroke-width="1"/>
<line x1="171" y1="267.06" x2="175.6" y2="267.06" stroke="#000" stroke-width="1"/>
<line x1="52" y1="281.92" x2="43.4" y2="281.92" stroke="#000" stroke-width="1"/>
<line x1="171" y1="281.92" x2="179.6" y2="281.92" stroke="#000" stroke-width="1"/>
<line x1="52" y1="296.79" x2="47.4" y2="296.79" stroke="#000" stroke-width="1"/>
<line x1="171" y1="296.79" x2="175.6" y2="296.79" stroke="#000" stroke-width="1"/>
<line x1="52" y1="311.66" x2="43.4" y2="311.66" stroke="#000" stroke-width="1"/>
<line x1="171" y1="311.66" x2="179.6" y2="311.66" stroke="#000" stroke-width="1"/>
<line x1="52" y1="326.53" x2="47.4" y2="326.53" stroke="#000" stroke-width="1"/>
<line x1="171" y1="326.53" x2="175.6" y2="326.53" stroke="#000" stroke-width="1"/>
<line x1="52" y1="341.4" x2="43.4" y2="341.4" stroke="#000" stroke-width="1"/>
<line x1="171" y1="341.4" x2="179.6" y2="341.4" stroke="#000" stroke-width="1"/>
<rect x="52" y="222.45" width="119" height="118.95" fill="none" stroke="#000" stroke-width="2.3"/>
<line x1="230.6" y1="222.45" x2="230.6" y2="213.85" stroke="#000" stroke-width="1"/>
<line x1="230.6" y1="341.4" x2="230.6" y2="350" stroke="#000" stroke-width="1"/>
<line x1="242.52" y1="222.45" x2="242.52" y2="217.85" stroke="#000" stroke-width="1"/>
<line x1="242.52" y1="341.4" x2="242.52" y2="346" stroke="#000" stroke-width="1"/>
<line x1="254.44" y1="222.45" x2="254.44" y2="213.85" stroke="#000" stroke-width="1"/>
<line x1="254.44" y1="341.4" x2="254.44" y2="350" stroke="#000" stroke-width="1"/>
<line x1="266.36" y1="222.45" x2="266.36" y2="217.85" stroke="#000" stroke-width="1"/>
<line x1="266.36" y1="341.4" x2="266.36" y2="346" stroke="#000" stroke-width="1"/>
<line x1="278.28" y1="222.45" x2="278.28" y2="213.85" stroke="#000" stroke-width="1"/>
<line x1="278.28" y1="341.4" x2="278.28" y2="350" stroke="#000" stroke-width="1"/>
<line x1="290.2" y1="222.45" x2="290.2" y2="217.85" stroke="#000" stroke-width="1"/>
<line x1="290.2" y1="341.4" x2="290.2" y2="346" stroke="#000" stroke-width="1"/>
<line x1="302.12" y1="222.45" x2="302.12" y2="213.85" stroke="#000" stroke-width="1"/>
<line x1="302.12" y1="341.4" x2="302.12" y2="350" stroke="#000" stroke-width="1"/>
<line x1="314.04" y1="222.45" x2="314.04" y2="217.85" stroke="#000" stroke-width="1"/>
<line x1="314.04" y1="341.4" x2="314.04" y2="346" stroke="#000" stroke-width="1"/>
<line x1="325.96" y1="222.45" x2="325.96" y2="213.85" stroke="#000" stroke-width="1"/>
<line x1="325.96" y1="341.4" x2="325.96" y2="350" stroke="#000" stroke-width="1"/>
<line x1="337.88" y1="222.45" x2="337.88" y2="217.85" stroke="#000" stroke-width="1"/>
<line x1="337.88" y1="341.4" x2="337.88" y2="346" stroke="#000" stroke-width="1"/>
<line x1="349.8" y1="222.45" x2="349.8" y2="213.85" stroke="#000" stroke-width="1"/>
<line x1="349.8" y1="341.4" x2="349.8" y2="350" stroke="#000" stroke-width="1"/>
<line x1="230.6" y1="222.45" x2="222" y2="222.45" stroke="#000" stroke-width="1"/>
<line x1="349.8" y1="222.45" x2="358.4" y2="222.45" stroke="#000" stroke-width="1"/>
<line x1="230.6" y1="237.32" x2="226" y2="237.32" stroke="#000" stroke-width="1"/>
<line x1="349.8" y1="237.32" x2="354.4" y2="237.32" stroke="#000" stroke-width="1"/>
<line x1="230.6" y1="252.19" x2="222" y2="252.19" stroke="#000" stroke-width="1"/>
<line x1="349.8" y1="252.19" x2="358.4" y2="252.19" stroke="#000" stroke-width="1"/>
<line x1="230.6" y1="267.06" x2="226" y2="267.06" stroke="#000" stroke-width="1"/>
<line x1="349.8" y1="267.06" x2="354.4" y2="267.06" stroke="#000" stroke-width="1"/>
<line x1="230.6" y1="281.92" x2="222" y2="281.92" stroke="#000" stroke-width="1"/>
<line x1="349.8" y1="281.92" x2="358.4" y2="281.92" stroke="#000" stroke-width="1"/>
<line x1="230.6" y1="296.79" x2="226" y2="296.79" stroke="#000" stroke-width="1"/>
<line x1="349.8" y1="296.79" x2="354.4" y2="296.79" stroke="#000" stroke-width="1"/>
<line x1="230.6" y1="311.66" x2="222" y2="311.66" stroke="#000" stroke-width="1"/>
<line x1="349.8" y1="311.66" x2="358.4" y2="311.66" stroke="#000" stroke-width="1"/>
<line x1="230.6" y1="326.53" x2="226" y2="326.53" stroke="#000" stroke-width="1"/>
<line x1="349.8" y1="326.53" x2="354.4" y2="326.53" stroke="#000" stroke-width="1"/>
<line x1="230.6" y1="341.4" x2="222" y2="341.4" stroke="#000" stroke-width="1"/>
<line x1="349.8" y1="341.4" x2="358.4" y2="341.4" stroke="#000" stroke-width="1"/>
<rect x="230.6" y="222.45" width="119.2" height="118.95" fill="none" stroke="#000" stroke-width="2.3"/>
<line x1="392.6" y1="222.45" x2="392.6" y2="213.85" stroke="#000" stroke-width="1"/>
<line x1="392.6" y1="341.4" x2="392.6" y2="350" stroke="#000" stroke-width="1"/>
<line x1="422.35" y1="222.45" x2="422.35" y2="217.85" stroke="#000" stroke-width="1"/>
<line x1="422.35" y1="341.4" x2="422.35" y2="346" stroke="#000" stroke-width="1"/>
<line x1="452.1" y1="222.45" x2="452.1" y2="213.85" stroke="#000" stroke-width="1"/>
<line x1="452.1" y1="341.4" x2="452.1" y2="350" stroke="#000" stroke-width="1"/>
<line x1="481.85" y1="222.45" x2="481.85" y2="217.85" stroke="#000" stroke-width="1"/>
<line x1="481.85" y1="341.4" x2="481.85" y2="346" stroke="#000" stroke-width="1"/>
<line x1="511.6" y1="222.45" x2="511.6" y2="213.85" stroke="#000" stroke-width="1"/>
<line x1="511.6" y1="341.4" x2="511.6" y2="350" stroke="#000" stroke-width="1"/>
<line x1="392.6" y1="222.45" x2="384" y2="222.45" stroke="#000" stroke-width="1"/>
<line x1="511.6" y1="222.45" x2="520.2" y2="222.45" stroke="#000" stroke-width="1"/>
<line x1="392.6" y1="237.32" x2="388" y2="237.32" stroke="#000" stroke-width="1"/>
<line x1="511.6" y1="237.32" x2="516.2" y2="237.32" stroke="#000" stroke-width="1"/>
<line x1="392.6" y1="252.19" x2="384" y2="252.19" stroke="#000" stroke-width="1"/>
<line x1="511.6" y1="252.19" x2="520.2" y2="252.19" stroke="#000" stroke-width="1"/>
<line x1="392.6" y1="267.06" x2="388" y2="267.06" stroke="#000" stroke-width="1"/>
<line x1="511.6" y1="267.06" x2="516.2" y2="267.06" stroke="#000" stroke-width="1"/>
<line x1="392.6" y1="281.92" x2="384" y2="281.92" stroke="#000" stroke-width="1"/>
<line x1="511.6" y1="281.92" x2="520.2" y2="281.92" stroke="#000" stroke-width="1"/>
<line x1="392.6" y1="296.79" x2="388" y2="296.79" stroke="#000" stroke-width="1"/>
<line x1="511.6" y1="296.79" x2="516.2" y2="296.79" stroke="#000" stroke-width="1"/>
<line x1="392.6" y1="311.66" x2="384" y2="311.66" stroke="#000" stroke-width="1"/>
<line x1="511.6" y1="311.66" x2="520.2" y2="311.66" stroke="#000" stroke-width="1"/>
<line x1="392.6" y1="326.53" x2="388" y2="326.53" stroke="#000" stroke-width="1"/>
<line x1="511.6" y1="326.53" x2="516.2" y2="326.53" stroke="#000" stroke-width="1"/>
<line x1="392.6" y1="341.4" x2="384" y2="341.4" stroke="#000" stroke-width="1"/>
<line x1="511.6" y1="341.4" x2="520.2" y2="341.4" stroke="#000" stroke-width="1"/>
<rect x="392.6" y="222.45" width="119" height="118.95" fill="none" stroke="#000" stroke-width="2.3"/>
<line x1="556.4" y1="222.45" x2="556.4" y2="213.85" stroke="#000" stroke-width="1"/>
<line x1="556.4" y1="341.4" x2="556.4" y2="350" stroke="#000" stroke-width="1"/>
<line x1="568.32" y1="222.45" x2="568.32" y2="217.85" stroke="#000" stroke-width="1"/>
<line x1="568.32" y1="341.4" x2="568.32" y2="346" stroke="#000" stroke-width="1"/>
<line x1="580.24" y1="222.45" x2="580.24" y2="217.85" stroke="#000" stroke-width="1"/>
<line x1="580.24" y1="341.4" x2="580.24" y2="346" stroke="#000" stroke-width="1"/>
<line x1="592.16" y1="222.45" x2="592.16" y2="217.85" stroke="#000" stroke-width="1"/>
<line x1="592.16" y1="341.4" x2="592.16" y2="346" stroke="#000" stroke-width="1"/>
<line x1="604.08" y1="222.45" x2="604.08" y2="213.85" stroke="#000" stroke-width="1"/>
<line x1="604.08" y1="341.4" x2="604.08" y2="350" stroke="#000" stroke-width="1"/>
<line x1="616" y1="222.45" x2="616" y2="217.85" stroke="#000" stroke-width="1"/>
<line x1="616" y1="341.4" x2="616" y2="346" stroke="#000" stroke-width="1"/>
<line x1="627.92" y1="222.45" x2="627.92" y2="217.85" stroke="#000" stroke-width="1"/>
<line x1="627.92" y1="341.4" x2="627.92" y2="346" stroke="#000" stroke-width="1"/>
<line x1="639.84" y1="222.45" x2="639.84" y2="217.85" stroke="#000" stroke-width="1"/>
<line x1="639.84" y1="341.4" x2="639.84" y2="346" stroke="#000" stroke-width="1"/>
<line x1="651.76" y1="222.45" x2="651.76" y2="213.85" stroke="#000" stroke-width="1"/>
<line x1="651.76" y1="341.4" x2="651.76" y2="350" stroke="#000" stroke-width="1"/>
<line x1="663.68" y1="222.45" x2="663.68" y2="217.85" stroke="#000" stroke-width="1"/>
<line x1="663.68" y1="341.4" x2="663.68" y2="346" stroke="#000" stroke-width="1"/>
<line x1="675.6" y1="222.45" x2="675.6" y2="217.85" stroke="#000" stroke-width="1"/>
<line x1="675.6" y1="341.4" x2="675.6" y2="346" stroke="#000" stroke-width="1"/>
<line x1="556.4" y1="222.45" x2="547.8" y2="222.45" stroke="#000" stroke-width="1"/>
<line x1="675.6" y1="222.45" x2="684.2" y2="222.45" stroke="#000" stroke-width="1"/>
<line x1="556.4" y1="237.32" x2="551.8" y2="237.32" stroke="#000" stroke-width="1"/>
<line x1="675.6" y1="237.32" x2="680.2" y2="237.32" stroke="#000" stroke-width="1"/>
<line x1="556.4" y1="252.19" x2="547.8" y2="252.19" stroke="#000" stroke-width="1"/>
<line x1="675.6" y1="252.19" x2="684.2" y2="252.19" stroke="#000" stroke-width="1"/>
<line x1="556.4" y1="267.06" x2="551.8" y2="267.06" stroke="#000" stroke-width="1"/>
<line x1="675.6" y1="267.06" x2="680.2" y2="267.06" stroke="#000" stroke-width="1"/>
<line x1="556.4" y1="281.92" x2="547.8" y2="281.92" stroke="#000" stroke-width="1"/>
<line x1="675.6" y1="281.92" x2="684.2" y2="281.92" stroke="#000" stroke-width="1"/>
<line x1="556.4" y1="296.79" x2="551.8" y2="296.79" stroke="#000" stroke-width="1"/>
<line x1="675.6" y1="296.79" x2="680.2" y2="296.79" stroke="#000" stroke-width="1"/>
<line x1="556.4" y1="311.66" x2="547.8" y2="311.66" stroke="#000" stroke-width="1"/>
<line x1="675.6" y1="311.66" x2="684.2" y2="311.66" stroke="#000" stroke-width="1"/>
<line x1="556.4" y1="326.53" x2="551.8" y2="326.53" stroke="#000" stroke-width="1"/>
<line x1="675.6" y1="326.53" x2="680.2" y2="326.53" stroke="#000" stroke-width="1"/>
<line x1="556.4" y1="341.4" x2="547.8" y2="341.4" stroke="#000" stroke-width="1"/>
<line x1="675.6" y1="341.4" x2="684.2" y2="341.4" stroke="#000" stroke-width="1"/>
<rect x="556.4" y="222.45" width="119.2" height="118.95" fill="none" stroke="#000" stroke-width="2.3"/>
<g font-family="Liberation Sans, sans-serif" font-size="16.6" fill="#000">
<text x="52" y="54.5" text-anchor="middle">0</text>
<text x="99.6" y="54.5" text-anchor="middle">1</text>
<text x="147.2" y="54.5" text-anchor="middle">2</text>
<text x="230.6" y="54.5" text-anchor="middle">0</text>
<text x="254.44" y="54.5" text-anchor="middle">2</text>
<text x="278.28" y="54.5" text-anchor="middle">4</text>
<text x="302.12" y="54.5" text-anchor="middle">6</text>
<text x="325.96" y="54.5" text-anchor="middle">8</text>
<text x="349.8" y="54.5" text-anchor="middle">10</text>
<text x="392.6" y="54.5" text-anchor="middle">0</text>
<text x="452.1" y="54.5" text-anchor="middle">400</text>
<text x="511.6" y="54.5" text-anchor="middle">800</text>
<text x="556.4" y="54.5" text-anchor="middle">0</text>
<text x="604.08" y="54.5" text-anchor="middle">4000</text>
<text x="651.76" y="54.5" text-anchor="middle">8000</text>
<text x="35.7" y="77.4" text-anchor="end">0</text>
<text x="35.7" y="107.15" text-anchor="end">1</text>
<text x="35.7" y="136.9" text-anchor="end">2</text>
<text x="35.7" y="166.65" text-anchor="end">3</text>
<text x="35.7" y="196.4" text-anchor="end">4</text>
<text x="35.7" y="228.55" text-anchor="end">0</text>
<text x="35.7" y="258.29" text-anchor="end">1</text>
<text x="35.7" y="288.02" text-anchor="end">2</text>
<text x="35.7" y="317.76" text-anchor="end">3</text>
<text x="35.7" y="347.5" text-anchor="end">4</text>
<text transform="translate(12.9 131) rotate(-90)" text-anchor="middle">Depth [km]</text>
<text transform="translate(12.9 282.12) rotate(-90)" text-anchor="middle">Depth [km]</text>

<text x="82.5" y="17.2">Volume</text>
<text x="64.4" y="36.8">[x10</text>
<text x="97.3" y="30.3" font-size="12.4">3</text>
<text x="104.7" y="36.8">m</text>
<text x="120.3" y="30.3" font-size="12.4">3</text>
<text x="126.9" y="36.8">/mol]</text>
<text x="264.1" y="16.0">Viscosity</text>
<text x="257.4" y="35.9">[x10</text>
<text x="289.6" y="30.6" font-size="12.4">5</text>
<text x="298.1" y="35.9">PaS]</text>
<text x="426.0" y="15.1">Density</text>
<text x="425.4" y="32.6">[kg/m</text>
<text x="467.2" y="28.4" font-size="12.4">3</text>
<text x="475.6" y="32.6">]</text>
<text x="579.3" y="12.4">Buoyancy</text>
<text x="574.8" y="31.8">[kg/S</text>
<text x="614.2" y="24.8" font-size="11.5">2</text>
<text x="622.1" y="31.8">/m</text>
<text x="641.3" y="24.8" font-size="11.5">2</text>
<text x="650.2" y="31.8">]</text>


<g font-size="13">
<text transform="translate(144.3 185.9) scale(1 1.1)" font-size="13.4" letter-spacing="-0.3">CO<tspan font-size="9" dy="1.5" dx="-0.1">2</tspan></text>
<text transform="translate(234.1 185.9) scale(1 1.1)" font-size="13.4" letter-spacing="-0.3">CO<tspan font-size="9" dy="1.5" dx="-0.1">2</tspan></text>
<text transform="translate(395.3 185.9) scale(1 1.1)" font-size="13.4" letter-spacing="-0.3">CO<tspan font-size="9" dy="1.5" dx="-0.1">2</tspan></text>
<text transform="translate(645.3 185.9) scale(1 1.1)" font-size="13.4" letter-spacing="-0.3">CO<tspan font-size="9" dy="1.5" dx="-0.1">2</tspan></text>
<text x="117.3" y="338.1">Methane</text>
<text x="294.3" y="338.1" font-size="13.3">Methane</text>
<text x="457.0" y="338.1" font-size="13.3">Methane</text>
<text x="559.0" y="338.1" font-size="13.3">Methane</text>
<line x1="291.4" y1="365.8" x2="305.8" y2="365.8" stroke="#0000ff" stroke-width="2.2"/>
<text x="310.7" y="370" font-style="italic">T</text>
<text x="316.0" y="372.4" font-style="italic" font-size="10">s</text>
<text x="322.1" y="370">=</text>
<text transform="translate(333.4 370.5) scale(1 1.1)">0</text>
<circle cx="343.1" cy="361.9" r="1.6" fill="none" stroke="#222" stroke-width="0.7"/>
<text transform="translate(344.9 370.5) scale(1 1.1)">C</text>
<line x1="373.2" y1="366.1" x2="387.8" y2="366.1" stroke="#000" stroke-width="2.2"/>
<text x="392.9" y="370" font-style="italic">T</text>
<text x="398.0" y="372.4" font-style="italic" font-size="10">s</text>
<text x="404.5" y="370">=</text>
<text transform="translate(415.5 370.5) scale(1 1.1)">20</text>
<circle cx="431.95" cy="361.7" r="1.6" fill="none" stroke="#222" stroke-width="0.7"/>
<text transform="translate(434.1 370.5) scale(1 1.1)">C</text>
</g>

</g>
</svg>
</body></html>
